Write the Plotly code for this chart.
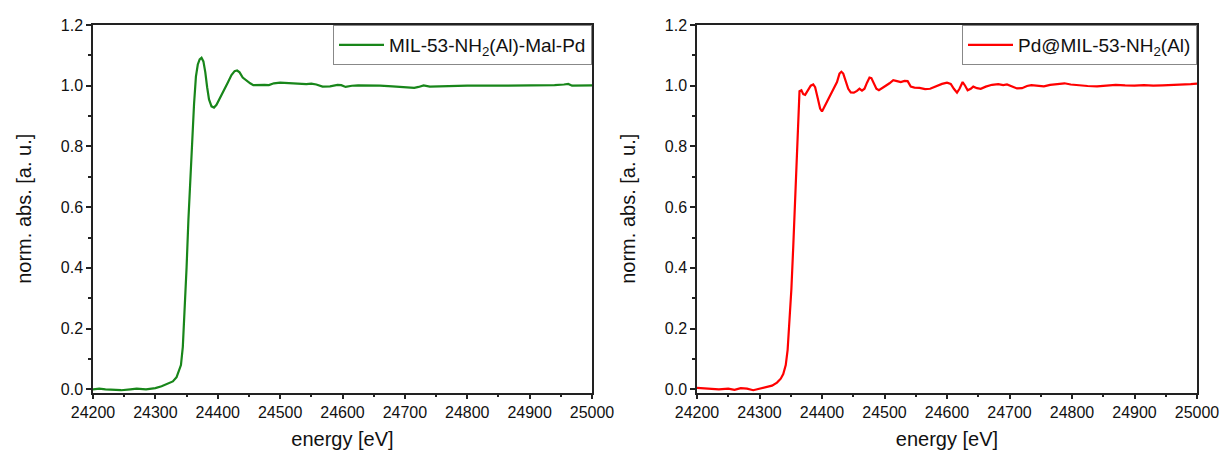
import plotly.graph_objects as go

# Left panel: MIL-53-NH2(Al)-Mal-Pd
energy_left = [24200, 24210, 24220, 24230, 24245, 24260, 24270, 24285, 24300, 24310, 24320, 24328,
               24334, 24338, 24341, 24344, 24347, 24350, 24353, 24356, 24359, 24362, 24365, 24368,
               24371, 24374, 24377, 24380, 24383, 24386, 24390, 24394, 24398, 24404, 24410, 24416,
               24422, 24427, 24431, 24435, 24440, 24446, 24452, 24457, 24465, 24475, 24482, 24490,
               24500, 24515, 24530, 24542, 24550, 24558, 24568, 24580, 24592, 24598, 24605, 24615,
               24625, 24640, 24660, 24680, 24700, 24715, 24722, 24730, 24740, 24760, 24800, 24850,
               24900, 24940, 24955, 24962, 24968, 24985, 25000]
absorb_left = [0.000, 0.002, 0.000, -0.002, -0.003, 0.000, 0.002, 0.000, 0.004, 0.010, 0.018, 0.026,
               0.040, 0.060, 0.080, 0.140, 0.260, 0.400, 0.560, 0.700, 0.820, 0.940, 1.030, 1.070,
               1.087, 1.092, 1.080, 1.045, 0.995, 0.955, 0.932, 0.928, 0.937, 0.960, 0.985, 1.010,
               1.035, 1.048, 1.050, 1.044, 1.027, 1.016, 1.008, 1.002, 1.003, 1.003, 1.002, 1.008,
               1.010, 1.009, 1.006, 1.005, 1.007, 1.004, 0.997, 0.998, 1.003, 1.002, 0.996, 1.000,
               1.001, 1.001, 1.000, 0.998, 0.995, 0.993, 0.996, 1.001, 0.997, 0.998, 1.000, 1.000,
               1.000, 1.002, 1.004, 1.006, 1.000, 1.001, 1.001]

# Right panel: Pd@MIL-53-NH2(Al)
energy_right = [24200, 24210, 24220, 24235, 24250, 24260, 24270, 24280, 24290, 24300, 24310, 24320,
                24328, 24334, 24338, 24342, 24345, 24348, 24351, 24354, 24357, 24360, 24362, 24364,
                24367, 24370, 24373, 24377, 24382, 24386, 24389, 24393, 24397, 24400, 24405, 24410,
                24415, 24420, 24424, 24428, 24431, 24434, 24438, 24442, 24446, 24451, 24456, 24460,
                24464, 24468, 24472, 24476, 24479, 24483, 24487, 24491, 24496, 24502, 24508, 24514,
                24520, 24526, 24532, 24537, 24542, 24548, 24556, 24565, 24573, 24582, 24592, 24600,
                24606, 24611, 24616, 24620, 24625, 24629, 24633, 24638, 24642, 24648, 24654, 24662,
                24672, 24682, 24690, 24696, 24703, 24712, 24720, 24728, 24735, 24745, 24755, 24765,
                24778, 24788, 24798, 24810, 24825, 24840, 24855, 24870, 24885, 24900, 24915, 24930,
                24945, 24960, 24975, 24990, 25000]
absorb_right = [0.005, 0.004, 0.002, 0.000, 0.002, -0.002, 0.004, 0.002, -0.003, 0.002, 0.008, 0.012,
                0.022, 0.035, 0.050, 0.080, 0.130, 0.220, 0.330, 0.470, 0.640, 0.820, 0.930, 0.982,
                0.985, 0.972, 0.970, 0.985, 1.000, 1.004, 0.995, 0.960, 0.925, 0.915, 0.935, 0.960,
                0.978, 0.995, 1.012, 1.040, 1.046, 1.040, 1.015, 0.990, 0.978, 0.977, 0.983, 0.990,
                0.984, 0.990, 1.010, 1.027, 1.025, 1.005, 0.990, 0.985, 0.993, 1.000, 1.008, 1.018,
                1.015, 1.012, 1.016, 1.015, 0.997, 0.994, 0.993, 0.989, 0.990, 0.998, 1.006, 1.010,
                1.006, 0.990, 0.977, 0.990, 1.012, 1.000, 0.985, 0.990, 0.997, 0.992, 0.990, 0.997,
                1.003, 1.005, 1.002, 1.004, 0.998, 0.991, 0.992, 0.999, 1.002, 0.999, 0.998, 1.003,
                1.006, 1.008, 1.004, 1.001, 0.999, 0.998, 1.001, 1.003, 1.001, 1.000, 1.002, 1.000,
                1.001, 1.002, 1.002, 1.005, 1.007]

name_left = "MIL-53-NH<sub>2</sub>(Al)-Mal-Pd"
name_right = "Pd@MIL-53-NH<sub>2</sub>(Al)"
x_title = "energy [eV]"
y_title = "norm. abs. [a. u.]"
x_ticks = [24200, 24300, 24400, 24500, 24600, 24700, 24800, 24900, 25000]
y_ticks = [0.0, 0.2, 0.4, 0.6, 0.8, 1.0, 1.2]

FONT = "Liberation Sans, Arial, sans-serif"
W, H = 1221, 455
top = 1 - 25 / H
bottom = 1 - 392.5 / H
dom_left = [93 / W, 592 / W]
dom_right = [697 / W, 1197 / W]

fig = go.Figure()
fig.add_trace(go.Scatter(x=energy_left, y=absorb_left, mode="lines", name=name_left,
                         line=dict(color="#18861a", width=2.2), xaxis="x", yaxis="y",
                         legend="legend", showlegend=True))
fig.add_trace(go.Scatter(x=energy_right, y=absorb_right, mode="lines", name=name_right,
                         line=dict(color="#ff0000", width=2.2), xaxis="x2", yaxis="y2",
                         legend="legend2", showlegend=True))

xax = dict(range=[24200, 25000], tickvals=x_ticks, tickformat="d", ticks="outside", ticklen=5,
           tickwidth=1.5, tickcolor="#222", showline=True, linecolor="#222", linewidth=1.5,
           mirror=True, showgrid=False, zeroline=False, automargin=False,
           tickfont=dict(family=FONT, size=16, color="#111"),
           minor=dict(dtick=50, ticks="outside", ticklen=3, tickwidth=1.5, tickcolor="#222", showgrid=False),
           title=dict(text=x_title, font=dict(family=FONT, size=20, color="#111"), standoff=12))
yax = dict(range=[-0.0105, 1.2], tickvals=y_ticks, tickformat=".1f", ticks="outside", ticklen=5,
           tickwidth=1.5, tickcolor="#222", showline=True, linecolor="#222", linewidth=1.5,
           mirror=True, showgrid=False, zeroline=False, automargin=False,
           tickfont=dict(family=FONT, size=16, color="#111"),
           minor=dict(dtick=0.1, ticks="outside", ticklen=3, tickwidth=1.5, tickcolor="#222", showgrid=False),
           title=dict(text=y_title, font=dict(family=FONT, size=20, color="#111"), standoff=24))

leg = dict(xanchor="right", yanchor="top", bgcolor="white", bordercolor="#888", borderwidth=1,
           font=dict(family=FONT, size=19, color="#111"), itemwidth=45)

fig.update_layout(
    width=W, height=H, margin=dict(l=0, r=0, t=0, b=0),
    paper_bgcolor="white", plot_bgcolor="white", showlegend=True,
    xaxis=dict(domain=dom_left, anchor="y", **xax),
    yaxis=dict(domain=[bottom, top], anchor="x", **yax),
    xaxis2=dict(domain=dom_right, anchor="y2", **xax),
    yaxis2=dict(domain=[bottom, top], anchor="x2", **yax),
    legend=dict(x=dom_left[1], y=top, **leg),
    legend2=dict(x=dom_right[1], y=top, **leg),
)

fig.write_html("out.html")
